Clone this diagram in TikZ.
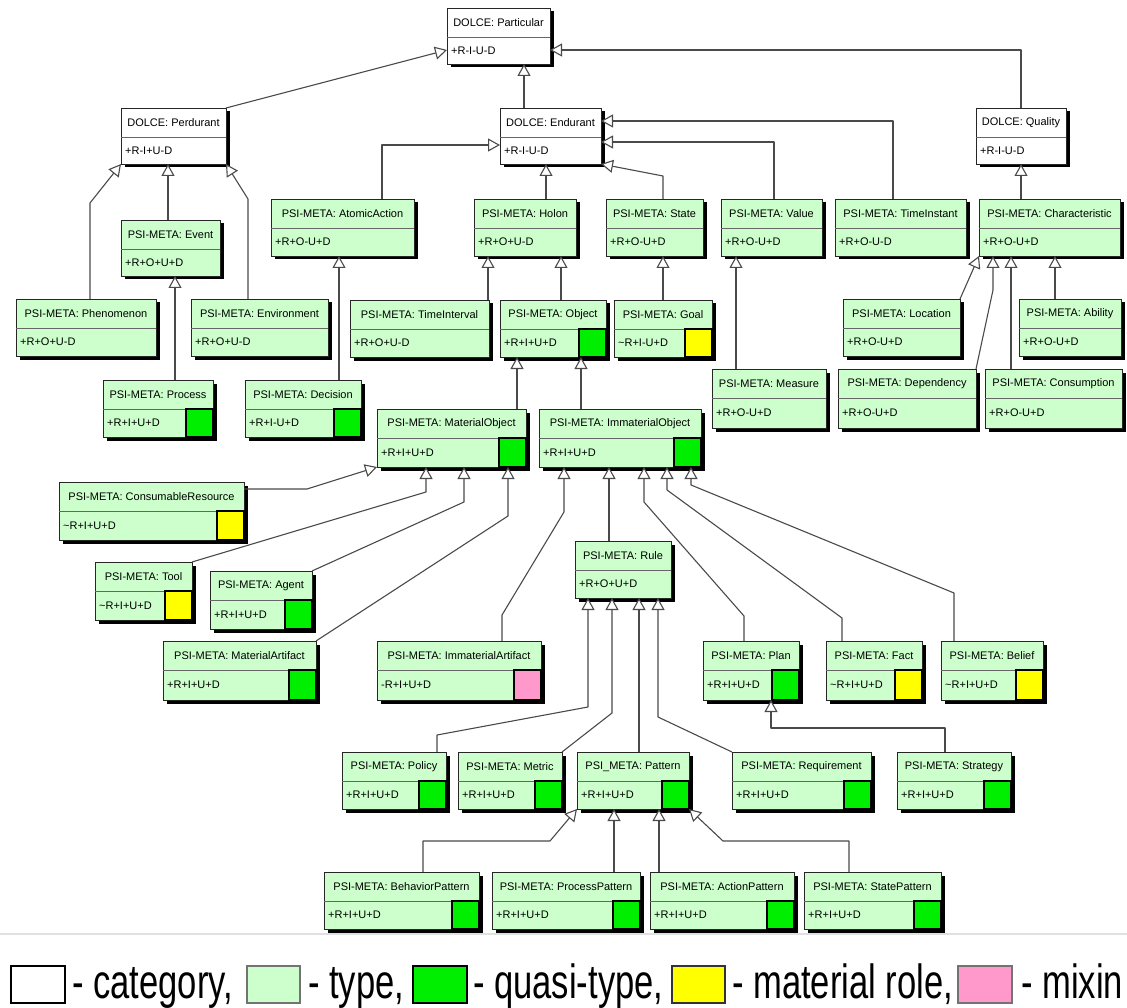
\documentclass[tikz,border=0pt]{standalone}
\usepackage{fontspec}
\setmainfont{Liberation Sans}
\newfontfamily\legendfont[FakeStretch=0.72]{Liberation Sans}
\usetikzlibrary{arrows.meta}

\definecolor{typegreen}{HTML}{CCFFCC}
\definecolor{quasigreen}{HTML}{00EE00}
\definecolor{roleyellow}{HTML}{FFFF00}
\definecolor{mixinpink}{HTML}{FF99CC}
\definecolor{linkgray}{HTML}{4A4A4A}

\tikzset{
  catfill/.style={fill=white},
  typefill/.style={fill=typegreen},
  classbox/.style={draw=black!85, line width=0.9pt, inner sep=0pt, outer sep=0pt},
  classshadow/.style={fill=black},
  classtitle/.style={font=\fontsize{11}{12}\selectfont, inner sep=0pt},
  classattr/.style={font=\fontsize{11}{12}\selectfont, inner sep=0pt, anchor=west},
  badge/.style={draw=black, line width=1.3pt},
  gen/.style={draw=linkgray, line width=1.1pt, line join=round,
    -{Triangle[length=12pt,width=13pt,fill=white,line width=1.1pt]}},
  legendtxt/.style={font=\legendfont\fontsize{48}{52}\selectfont, inner sep=0pt, anchor=base west},
  legendbox/.style={line width=1.5pt},
}

\def\nobadge{none}
% #1 name, #2 fill style, #3 left, #4 top, #5 right, #6 bottom, #7 title, #8 attributes, #9 badge colour or none
\newcommand\umlclass[9]{%
  \fill[classshadow] ({#3+3.5},{#4+3.5}) rectangle ({#5+3.5},{#6+3.5});
  \node[classbox, #2, minimum width={(#5-#3)*1pt}, minimum height={(#6-#4)*1pt}, anchor=north west] (#1) at (#3,#4) {};
  \draw[draw=black!60, line width=0.8pt] (#3,{#4+29}) -- (#5,{#4+29});
  \node[classtitle] at ({(#3+#5)/2},{#4+15}) {#7};
  \node[classattr] at ({#3+4},{(#4+29+#6)/2}) {#8};
  \def\badgecolor{#9}%
  \ifx\badgecolor\nobadge\else
    \filldraw[badge, fill=#9] ({#5-27},{#4+29}) rectangle (#5,#6);
  \fi
}

\begin{document}
\begin{tikzpicture}[x=1pt, y=-1pt]
\fill[white] (0,0) rectangle (1127,1008);
\useasboundingbox (0,0) rectangle (1127,1008);

% ---- DOLCE categories
\umlclass{Particular}{catfill}{447}{8}{550}{64}{DOLCE: Particular}{+R-I-U-D}{none}
\umlclass{Perdurant}{catfill}{121}{108}{226}{164}{DOLCE: Perdurant}{+R-I+U-D}{none}
\umlclass{Endurant}{catfill}{500}{108}{601}{164}{DOLCE: Endurant}{+R-I-U-D}{none}
\umlclass{Quality}{catfill}{976}{108}{1066}{164}{DOLCE: Quality}{+R-I-U-D}{none}

% ---- second level
\umlclass{AtomicAction}{typefill}{271}{199}{414}{256}{PSI-META: AtomicAction}{+R+O-U+D}{none}
\umlclass{Holon}{typefill}{474}{199}{576}{256}{PSI-META: Holon}{+R+O+U-D}{none}
\umlclass{State}{typefill}{606}{199}{703}{256}{PSI-META: State}{+R+O-U+D}{none}
\umlclass{Value}{typefill}{721}{199}{822}{256}{PSI-META: Value}{+R+O-U+D}{none}
\umlclass{TimeInstant}{typefill}{835}{199}{966}{256}{PSI-META: TimeInstant}{+R+O-U-D}{none}
\umlclass{Characteristic}{typefill}{979}{199}{1120}{256}{PSI-META: Characteristic}{+R+O-U+D}{none}
\umlclass{Event}{typefill}{121}{220}{220}{276}{PSI-META: Event}{+R+O+U+D}{none}

% ---- third level
\umlclass{Phenomenon}{typefill}{16}{299}{156}{356}{PSI-META: Phenomenon}{+R+O+U-D}{none}
\umlclass{Environment}{typefill}{191}{299}{328}{356}{PSI-META: Environment}{+R+O+U-D}{none}
\umlclass{TimeInterval}{typefill}{350}{300}{489}{357}{PSI-META: TimeInterval}{+R+O+U-D}{none}
\umlclass{Object}{typefill}{500}{300}{606}{357}{PSI-META: Object}{+R+I+U+D}{quasigreen}
\umlclass{Goal}{typefill}{614}{300}{712}{357}{PSI-META: Goal}{\textasciitilde R+I-U+D}{roleyellow}
\umlclass{Location}{typefill}{843}{299}{960}{356}{PSI-META: Location}{+R+O-U+D}{none}
\umlclass{Ability}{typefill}{1019}{299}{1121}{356}{PSI-META: Ability}{+R+O-U+D}{none}

\umlclass{Measure}{typefill}{712}{369}{826}{428}{PSI-META: Measure}{+R+O-U+D}{none}
\umlclass{Dependency}{typefill}{838}{369}{976}{428}{PSI-META: Dependency}{+R+O-U+D}{none}
\umlclass{Consumption}{typefill}{985}{369}{1122}{428}{PSI-META: Consumption}{+R+O-U+D}{none}
\umlclass{Process}{typefill}{103}{380}{213}{437}{PSI-META: Process}{+R+I+U+D}{quasigreen}
\umlclass{Decision}{typefill}{245}{380}{361}{437}{PSI-META: Decision}{+R+I-U+D}{quasigreen}

% ---- objects
\umlclass{MaterialObject}{typefill}{377}{409}{526}{467}{PSI-META: MaterialObject}{+R+I+U+D}{quasigreen}
\umlclass{ImmaterialObject}{typefill}{539}{409}{701}{467}{PSI-META: ImmaterialObject}{+R+I+U+D}{quasigreen}
\umlclass{ConsumableResource}{typefill}{59}{482}{244}{540}{PSI-META: ConsumableResource}{\textasciitilde R+I+U+D}{roleyellow}
\umlclass{Tool}{typefill}{95}{562}{192}{620}{PSI-META: Tool}{\textasciitilde R+I+U+D}{roleyellow}
\umlclass{Agent}{typefill}{210}{571}{312}{629}{PSI-META: Agent}{+R+I+U+D}{quasigreen}
\umlclass{Rule}{typefill}{575}{541}{671}{598}{PSI-META: Rule}{+R+O+U+D}{none}
\umlclass{MaterialArtifact}{typefill}{163}{641}{316}{700}{PSI-META: MaterialArtifact}{+R+I+U+D}{quasigreen}
\umlclass{ImmaterialArtifact}{typefill}{377}{641}{541}{700}{PSI-META: ImmaterialArtifact}{-R+I+U+D}{mixinpink}
\umlclass{Plan}{typefill}{703}{641}{799}{700}{PSI-META: Plan}{+R+I+U+D}{quasigreen}
\umlclass{Fact}{typefill}{826}{641}{922}{700}{PSI-META: Fact}{\textasciitilde R+I+U+D}{roleyellow}
\umlclass{Belief}{typefill}{941}{641}{1043}{700}{PSI-META: Belief}{\textasciitilde R+I+U+D}{roleyellow}

% ---- rules
\umlclass{Policy}{typefill}{342}{752}{446}{809}{PSI-META: Policy}{+R+I+U+D}{quasigreen}
\umlclass{Metric}{typefill}{458}{752}{562}{809}{PSI-META: Metric}{+R+I+U+D}{quasigreen}
\umlclass{Pattern}{typefill}{577}{752}{689}{809}{PSI\_META: Pattern}{+R+I+U+D}{quasigreen}
\umlclass{Requirement}{typefill}{732}{752}{871}{809}{PSI-META: Requirement}{+R+I+U+D}{quasigreen}
\umlclass{Strategy}{typefill}{897}{752}{1011}{809}{PSI-META: Strategy}{+R+I+U+D}{quasigreen}

% ---- patterns
\umlclass{BehaviorPattern}{typefill}{324}{872}{479}{929}{PSI-META: BehaviorPattern}{+R+I+U+D}{quasigreen}
\umlclass{ProcessPattern}{typefill}{492}{872}{640}{929}{PSI-META: ProcessPattern}{+R+I+U+D}{quasigreen}
\umlclass{ActionPattern}{typefill}{650}{872}{794}{929}{PSI-META: ActionPattern}{+R+I+U+D}{quasigreen}
\umlclass{StatePattern}{typefill}{804}{872}{941}{929}{PSI-META: StatePattern}{+R+I+U+D}{quasigreen}

% ---- generalisations
\draw[gen] (Perdurant.north east) -- (Particular.west |- 0,50);
\draw[gen] (Endurant.north -| 524,0) -- (Particular.south -| 524,0);
\draw[gen] (Quality.north -| 1021,0) -- (1021,50) -- (Particular.east |- 0,50);

\draw[gen] (AtomicAction.north -| 382,0) -- (382,145) -- (Endurant.west |- 0,145);
\draw[gen] (Holon.north -| 546,0) -- (Endurant.south -| 546,0);
\draw[gen] (State.north -| 663,0) -- (663,176) -- (Endurant.south east);
\draw[gen] (Value.north -| 774,0) -- (774,142) -- (Endurant.east |- 0,142);
\draw[gen] (TimeInstant.north -| 893,0) -- (893,121) -- (Endurant.east |- 0,121);
\draw[gen] (Characteristic.north -| 1021,0) -- (Quality.south -| 1021,0);

\draw[gen] (Event.north -| 168,0) -- (Perdurant.south -| 168,0);
\draw[gen] (Phenomenon.north -| 90,0) -- (90,203) -- (Perdurant.south west);
\draw[gen] (Environment.north -| 248,0) -- (248,199) -- (Perdurant.south east);
\draw[gen] (Process.north -| 175,0) -- (Event.south -| 175,0);
\draw[gen] (Decision.north -| 339,0) -- (AtomicAction.south -| 339,0);

\draw[gen] (TimeInterval.north -| 488,0) -- (Holon.south -| 488,0);
\draw[gen] (Object.north -| 561,0) -- (Holon.south -| 561,0);
\draw[gen] (Goal.north -| 663,0) -- (State.south -| 663,0);
\draw[gen] (Measure.north -| 736,0) -- (Value.south -| 736,0);

\draw[gen] (Location.north east) -- (Characteristic.south west);
\draw[gen] (Dependency.north east) -- (993,290) -- (Characteristic.south -| 993,0);
\draw[gen] (Consumption.north -| 1011,0) -- (Characteristic.south -| 1011,0);
\draw[gen] (Ability.north -| 1055,0) -- (Characteristic.south -| 1055,0);

\draw[gen] (MaterialObject.north -| 517,0) -- (Object.south -| 517,0);
\draw[gen] (ImmaterialObject.north -| 581,0) -- (Object.south -| 581,0);

\draw[gen] (ConsumableResource.east |- 0,489) -- (307,489) -- (MaterialObject.south west);
\draw[gen] (Tool.north east) -- (426,492) -- (MaterialObject.south -| 426,0);
\draw[gen] (Agent.north east) -- (464,502) -- (MaterialObject.south -| 464,0);
\draw[gen] (MaterialArtifact.north east) -- (508,516) -- (MaterialObject.south -| 508,0);

\draw[gen] (ImmaterialArtifact.north -| 502,0) -- (502,615) -- (564,512) -- (ImmaterialObject.south -| 564,0);
\draw[gen] (Rule.north -| 609,0) -- (ImmaterialObject.south -| 609,0);
\draw[gen] (Plan.north -| 744,0) -- (744,616) -- (644,502) -- (ImmaterialObject.south -| 644,0);
\draw[gen] (Fact.north -| 842,0) -- (842,618) -- (667,490) -- (ImmaterialObject.south -| 667,0);
\draw[gen] (Belief.north -| 954,0) -- (954,593) -- (691,485) -- (ImmaterialObject.south -| 691,0);

\draw[gen] (Policy.north -| 437,0) -- (437,735) -- (588,707) -- (Rule.south -| 588,0);
\draw[gen] (Metric.north east) -- (612,713) -- (Rule.south -| 612,0);
\draw[gen] (Pattern.north -| 639,0) -- (Rule.south -| 639,0);
\draw[gen] (Requirement.north west) -- (658,717) -- (Rule.south -| 658,0);
\draw[gen] (Strategy.north -| 945,0) -- (945,728) -- (771,728) -- (Plan.south -| 771,0);

\draw[gen] (BehaviorPattern.north -| 423,0) -- (423,841) -- (550,841) -- (Pattern.south west);
\draw[gen] (ProcessPattern.north -| 614,0) -- (Pattern.south -| 614,0);
\draw[gen] (ActionPattern.north -| 659,0) -- (Pattern.south -| 659,0);
\draw[gen] (StatePattern.north -| 849,0) -- (849,841) -- (723,841) -- (Pattern.south east);

% ---- separator and legend
\draw[black!12, line width=2pt] (0,934) -- (1127,934);

\draw[legendbox, draw=black, fill=white] (11,966) rectangle (65,1003);
\node[legendtxt] (lcat) at (72,998) {- category,};
\draw[legendbox, draw=black!55, fill=typegreen] (247,966) rectangle (300,1003);
\node[legendtxt] (ltype) at (308,998) {- type,};
\draw[legendbox, draw=black, fill=quasigreen] (413,966) rectangle (467,1003);
\node[legendtxt] (lquasi) at (473,998) {- quasi-type,};
\draw[legendbox, draw=black!80, fill=roleyellow] (672,966) rectangle (725,1003);
\node[legendtxt] (lrole) at (732,998) {- material role,};
\draw[legendbox, draw=black!55, fill=mixinpink] (958,966) rectangle (1012,1003);
\node[legendtxt] (lmixin) at (1021,998) {- mixin};
\end{tikzpicture}
\end{document}
